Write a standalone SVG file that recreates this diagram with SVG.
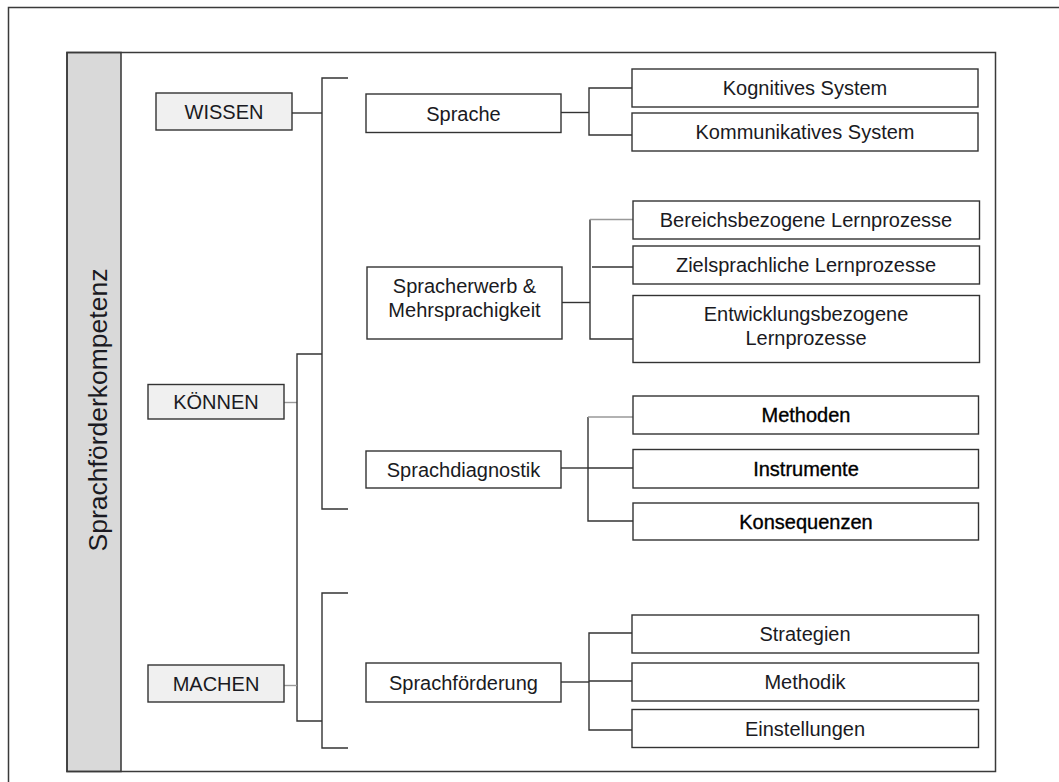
<svg xmlns="http://www.w3.org/2000/svg" width="1059" height="782" viewBox="0 0 1059 782">
  <style>
    .frame { fill: none; stroke: #3a3a3a; stroke-width: 1.5; }
    .box { fill: #ffffff; stroke: #333333; stroke-width: 1.4; }
    .box.main { fill: #f0f0f0; }
    .lbl { font-family: "Liberation Sans", Arial, sans-serif; font-size: 20px; fill: #1a1a22; text-anchor: middle; }
    .lbl.strong { fill: #000000; stroke: #000000; stroke-width: 0.35; }
    .title { font-family: "Liberation Sans", Arial, sans-serif; font-size: 26.5px; fill: #1a1a22; text-anchor: middle; }
    .wire { fill: none; stroke: #333333; stroke-width: 1.4; }
    .wire.soft { stroke: #999999; }
  </style>

  <rect width="1059" height="782" fill="#ffffff"/>

  <!-- page border (runs off the right and bottom edges) -->
  <rect class="frame" x="8.5" y="7.5" width="1100" height="820" stroke="#555555"/>

  <!-- main frame with grey title column -->
  <g id="frame">
    <rect x="67" y="52.5" width="54" height="719" fill="#d9d9d9" stroke="#333333" stroke-width="1.5"/>
    <rect class="frame" x="67" y="52.5" width="928.5" height="719"/>
    <text class="title" transform="translate(107,410) rotate(-90)">Sprachförderkompetenz</text>
  </g>

  <!-- connectors -->
  <g id="connectors">
    <!-- top level -->
    <path class="wire" d="M292 113 H322"/>
    <path class="wire" d="M348 78 H322 V509 H348"/>
    <path class="wire soft" d="M284 402.5 H297"/>
    <path class="wire" d="M322 354 H297 V721 H322"/>
    <path class="wire" d="M348 593 H322 V748 H348"/>
    <path class="wire soft" d="M284 685.5 H297"/>
    <!-- Sprache -->
    <path class="wire" d="M561 112.5 H589"/>
    <path class="wire" d="M632 88 H589 V135 H632"/>
    <!-- Spracherwerb -->
    <path class="wire" d="M562 302.5 H590"/>
    <path class="wire" d="M633 339 H590 V219.5"/>
    <path class="wire soft" d="M590 219.5 H633"/>
    <path class="wire" d="M592 267 H633"/>
    <!-- Sprachdiagnostik -->
    <path class="wire" d="M561 468 H588"/>
    <path class="wire" d="M633 521 H588 V417"/>
    <path class="wire soft" d="M588 417 H633"/>
    <path class="wire" d="M588 468 H633"/>
    <!-- Sprachfoerderung -->
    <path class="wire" d="M561 682 H589"/>
    <path class="wire" d="M632 633 H589 V730 H632"/>
    <path class="wire" d="M589 681 H632"/>
  </g>

  <!-- level 1 -->
  <g id="wissen">
    <rect class="box main" x="156" y="93" width="136" height="37"/>
    <text class="lbl" x="224" y="118.5">WISSEN</text>
  </g>
  <g id="koennen">
    <rect class="box main" x="148" y="384.5" width="136" height="34.5"/>
    <text class="lbl" x="216" y="408.7">KÖNNEN</text>
  </g>
  <g id="machen">
    <rect class="box main" x="148" y="665" width="136" height="37"/>
    <text class="lbl" x="216" y="690.8">MACHEN</text>
  </g>

  <!-- level 2 -->
  <g id="sprache">
    <rect class="box" x="366" y="94" width="195" height="38.5"/>
    <text class="lbl" x="463.5" y="120.5">Sprache</text>
  </g>
  <g id="spracherwerb">
    <rect class="box" x="367" y="267" width="195" height="72"/>
    <text class="lbl" x="464.5" y="292.7">Spracherwerb &amp;</text>
    <text class="lbl" x="464.5" y="316.7">Mehrsprachigkeit</text>
  </g>
  <g id="sprachdiagnostik">
    <rect class="box" x="366" y="451" width="195" height="37"/>
    <text class="lbl" x="463.5" y="476.5">Sprachdiagnostik</text>
  </g>
  <g id="sprachfoerderung">
    <rect class="box" x="366" y="663" width="195" height="39"/>
    <text class="lbl" x="463.5" y="689.5">Sprachförderung</text>
  </g>

  <!-- level 3 -->
  <g id="kognitiv">
    <rect class="box" x="632" y="69" width="346" height="38"/>
    <text class="lbl" x="805" y="95">Kognitives System</text>
  </g>
  <g id="kommunikativ">
    <rect class="box" x="632" y="113" width="346" height="38"/>
    <text class="lbl" x="805" y="139">Kommunikatives System</text>
  </g>
  <g id="bereichsbezogen">
    <rect class="box" x="633" y="201" width="346.5" height="38"/>
    <text class="lbl" x="806" y="227">Bereichsbezogene Lernprozesse</text>
  </g>
  <g id="zielsprachlich">
    <rect class="box" x="633" y="246" width="346.5" height="38"/>
    <text class="lbl" x="806" y="272">Zielsprachliche Lernprozesse</text>
  </g>
  <g id="entwicklungsbezogen">
    <rect class="box" x="633" y="295.5" width="346.5" height="67"/>
    <text class="lbl" x="806" y="320.7">Entwicklungsbezogene</text>
    <text class="lbl" x="806" y="344.5">Lernprozesse</text>
  </g>
  <g id="methoden">
    <rect class="box" x="633" y="396" width="345.5" height="38"/>
    <text class="lbl strong" x="806" y="422">Methoden</text>
  </g>
  <g id="instrumente">
    <rect class="box" x="633" y="449.5" width="345.5" height="38.5"/>
    <text class="lbl strong" x="806" y="475.5">Instrumente</text>
  </g>
  <g id="konsequenzen">
    <rect class="box" x="633" y="503" width="345.5" height="37"/>
    <text class="lbl strong" x="806" y="528.5">Konsequenzen</text>
  </g>
  <g id="strategien">
    <rect class="box" x="632" y="615" width="346.5" height="38"/>
    <text class="lbl" x="805" y="641">Strategien</text>
  </g>
  <g id="methodik">
    <rect class="box" x="632" y="663" width="346.5" height="38"/>
    <text class="lbl" x="805" y="689">Methodik</text>
  </g>
  <g id="einstellungen">
    <rect class="box" x="632" y="709.5" width="346.5" height="38"/>
    <text class="lbl" x="805" y="735.5">Einstellungen</text>
  </g>
</svg>
